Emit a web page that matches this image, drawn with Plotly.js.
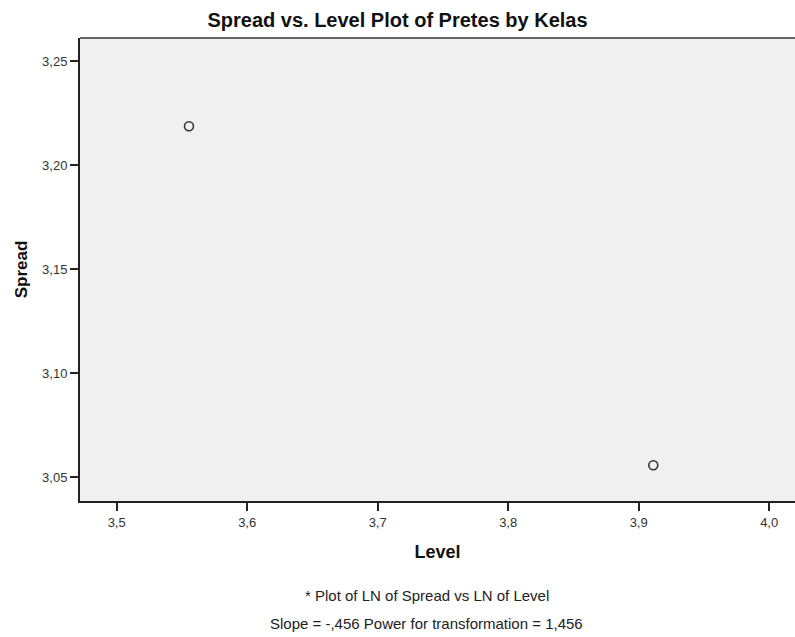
<!DOCTYPE html>
<html>
<head>
<meta charset="utf-8">
<script src="https://cdn.plot.ly/plotly-3.0.1.min.js"></script>
<style>html,body{margin:0;padding:0;background:#fff;}#chart{width:795px;height:637px;}</style>
</head>
<body>
<div id="chart"></div>
<script>
// Data (LN of Level vs LN of Spread)
var levelValues = [3.5554, 3.9112];
var spreadValues = [3.2188, 3.0558];
var xTickValues = [3.5, 3.6, 3.7, 3.8, 3.9, 4.0];
var yTickValues = [3.05, 3.10, 3.15, 3.20, 3.25];
var chartTitle = "Spread vs. Level Plot of Pretes by Kelas";
var footnoteLines = ["* Plot of LN of Spread vs LN of Level", "Slope = -,456 Power for transformation = 1,456"];

var FONT = "Liberation Sans, Arial, sans-serif";

var trace = {
  x: levelValues,
  y: spreadValues,
  type: "scatter",
  mode: "markers",
  marker: {symbol: "circle-open", size: 9, color: "#333333", line: {width: 1.6, color: "#333333"}},
  hoverinfo: "x+y"
};

var layout = {
  width: 795,
  height: 637,
  separators: ",.",
  margin: {l: 80, r: 0, t: 38, b: 136, pad: 0},
  paper_bgcolor: "#ffffff",
  plot_bgcolor: "#f0f0f0",
  showlegend: false,
  font: {family: FONT, color: "#222222"},
  title: {
    text: "<b>" + chartTitle + "</b>",
    font: {family: FONT, size: 20, color: "#111111"},
    x: 0.5, xref: "container", xanchor: "center",
    y: 1 - 20 / 637, yref: "container", yanchor: "middle"
  },
  xaxis: {
    range: [3.4719, 4.0198],
    tickvals: xTickValues,
    tickformat: ".1f",
    ticks: "outside", ticklen: 8, tickwidth: 2, tickcolor: "#222222",
    showline: true, linecolor: "#222222", linewidth: 2,
    showgrid: false, zeroline: false,
    tickfont: {family: FONT, size: 13, color: "#333333"},
    title: {text: "<b>Level</b>", font: {family: FONT, size: 18, color: "#111111"}, standoff: 17}
  },
  yaxis: {
    range: [3.0386, 3.2612],
    tickvals: yTickValues,
    tickformat: ".2f",
    ticks: "outside", ticklen: 8, tickwidth: 2, tickcolor: "#222222",
    showline: true, linecolor: "#222222", linewidth: 2,
    showgrid: false, zeroline: false,
    tickfont: {family: FONT, size: 13, color: "#333333"},
    title: {text: "<b>Spread</b>", font: {family: FONT, size: 17, color: "#111111"}, standoff: 10}
  },
  shapes: [{
    type: "line", xref: "paper", yref: "paper", x0: 0, x1: 1, y0: 1, y1: 1,
    line: {color: "#666666", width: 2}
  }],
  annotations: [
    {text: footnoteLines[0], xref: "paper", yref: "paper", x: 0.485, y: -0.2037, xanchor: "center", yanchor: "middle", showarrow: false, font: {family: FONT, size: 15, color: "#222222"}},
    {text: footnoteLines[1], xref: "paper", yref: "paper", x: 0.485, y: -0.264, xanchor: "center", yanchor: "middle", showarrow: false, font: {family: FONT, size: 15, color: "#222222"}}
  ]
};

Plotly.newPlot("chart", [trace], layout, {displayModeBar: false, staticPlot: true});
</script>
</body>
</html>
